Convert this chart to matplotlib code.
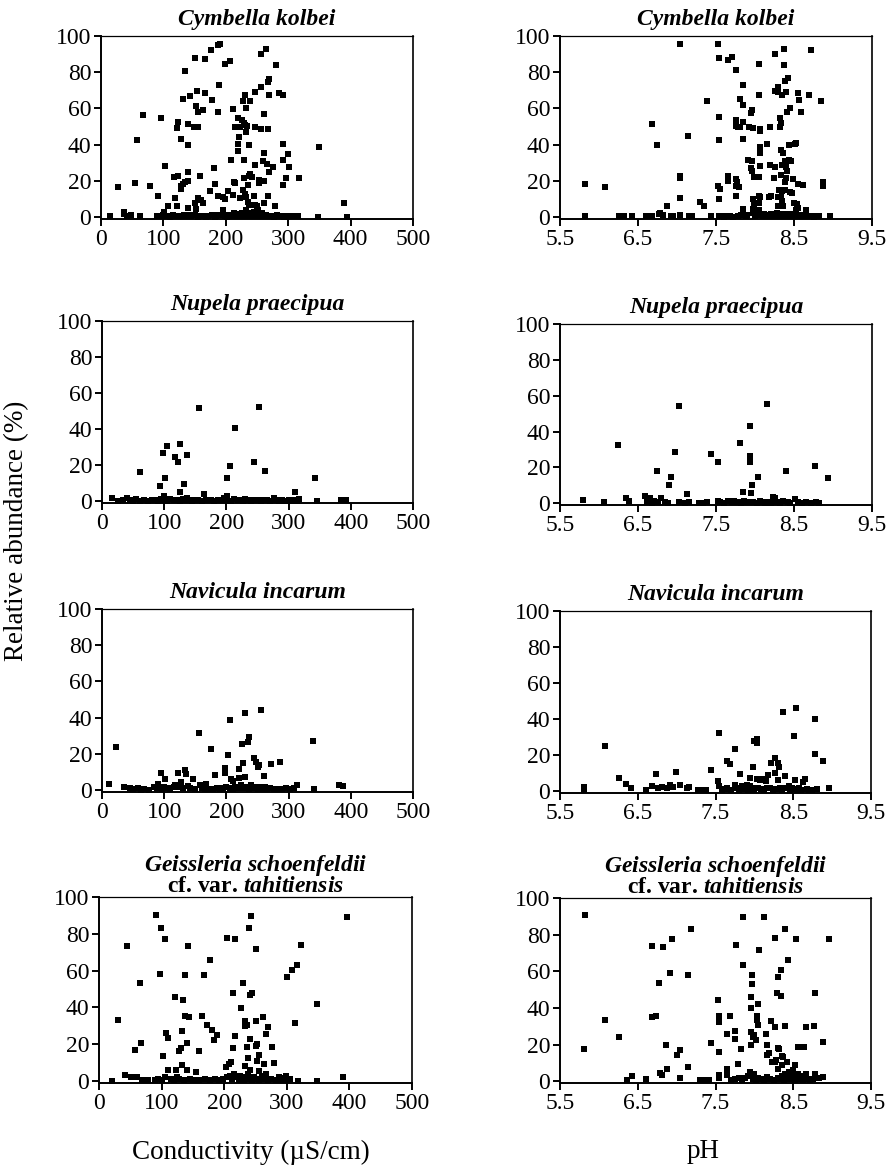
import matplotlib
matplotlib.use('Agg')
import matplotlib.pyplot as plt

plt.rcParams['font.family'] = ['Liberation Serif', 'DejaVu Serif']
plt.rcParams['mathtext.fontset'] = 'custom'
plt.rcParams['mathtext.it'] = 'Liberation Serif:italic:bold'
plt.rcParams['mathtext.rm'] = 'Liberation Serif:bold'

## species titles (one per row)
titles = ['Cymbella kolbei', 'Nupela praecipua', 'Navicula incarum',
          '$\\mathit{Geissleria\\ schoenfeldii}$\ncf. var. $\\mathit{tahitiensis}$']

cond_ticks = [0, 100, 200, 300, 400, 500]
ph_ticks   = [5.5, 6.5, 7.5, 8.5, 9.5]
y_ticks    = [0, 20, 40, 60, 80, 100]

## (conductivity uS/cm, relative abundance %)
cymbella_cond = [
    (27,16.6),(54,18.6),(78,17.2),(58,42.4),(68,56.5),(96,55),(103,28.5),(92,11.5),(107,6.4),(118,10.8),
    (121,6.4),(117,22.3),(124,22.7),(128,17),(131,18.3),(129,15.5),(135,19.6),(140,20),(140,25.2),(128,43.1),
    (140,39.9),(122,49.4),(123,52.6),(140,51.6),(149,49.7),(155,49.7),(131,65.3),(143,66.7),(154,69.5),(167,68.6),
    (152,61.4),(156,58.3),(163,58.9),(135,80.8),(151,88),(166,87.4),(176,92.1),(188,95),(191,95.4),(199,84.5),
    (207,86.3),(189,73),(178,64.5),(188,58),(158,22.7),(181,27),(182,18.1),(175,14.3),(188,11.9),(196,11.3),
    (198,10),(204,14.3),(212,12.2),(213,19.6),(215,18.6),(209,31.6),(219,36.7),(219,40.6),(221,44.4),(214,49.7),
    (222,49.9),(226,53.6),(229,52.1),(220,54.8),(230,50.8),(233,47),(234,50.3),(211,59.8),(232,60.1),(228,64.2),
    (238,64),(231,67.3),(246,68.9),(256,71.8),(261,56.9),(237,39.7),(246,49.9),(256,48.8),(268,48.8),(269,67.3),
    (268,74.6),(270,76.4),(256,90.3),(265,92.7),(281,84.1),(286,68.6),(292,67.3),(229,31.3),(246,28.9),(237,22.9),
    (242,22.3),(239,23.8),(229,21.4),(236,17.9),(253,20.8),(257,19.7),(262,19.7),(254,19),(259,30.9),(261,35.5),
    (266,29.3),(270,25),(276,27.6),(268,11.9),(261,7.7),(279,6.4),(291,40.6),(291,31.8),(300,34.9),(301,27.6),
    (296,21.8),(291,17.6),(317,21.9),(350,38.8),(389,7.7),(227,14.8),(230,12.6),(232,11),(245,11.9),(222,10.8),
    (235,8.2),(237,6.8),(247,6.9),(250,6),(251,3.7),(245,3.1),(232,3.7),(242,2.2),(156,10.4),(161,9.7),
    (163,8),(150,7.7),(153,4.4),(140,4.9),(195,3.7),(213,2.4),(101,2.7),(37,2.7),
    (15,0.5),(37,1.5),(42,0.5),(48,1),(62,0.5),(90,0.8),(96,0.5),(100,1.2),(105,0.5),(115,1),
    (120,0.5),(124,0.8),(128,0.5),(133,1),(138,0.5),(145,0.5),(150,1),(158,0.5),(165,0.8),(172,0.5),
    (178,1),(185,0.5),(192,1),(198,0.5),(204,1.2),(208,0.5),(212,1),(216,0.5),(220,1.5),(224,0.5),
    (227,1),(230,0.5),(233,1.5),(236,0.5),(239,1),(242,0.5),(244,1.2),(247,0.5),(250,1),(253,0.5),
    (256,1.2),(260,0.5),(264,1),(268,0.5),(274,0.5),(282,1),(290,0.5),(296,0.8),(300,0.5),(305,0.8),
    (310,0.5),(315,0.5),(348,0.3),(395,0.3),(110,0.3),(142,1),(155,0.3),(168,0.3),(182,0.3),(188,1),
    (202,0.3),(226,2.5),(238,2.5),(248,1.8),(258,2.2),(278,0.3),(286,0.5),(293,0.3)]

cymbella_ph = [
    (5.82,18.5),(6.08,16.7),(5.82,0.4),(6.25,0.4),(6.32,0.5),(6.42,0.9),(6.60,0.4),(6.68,0.4),(6.68,51.6),(6.74,40),
    (6.77,1.7),(6.78,2.2),(6.82,1.3),(6.87,6.4),(6.92,0.9),(6.95,0.9),(7.04,95.4),(7.04,22.6),(7.04,21.7),(7.04,10.5),
    (7.04,1.3),(7.14,44.6),(7.15,0.4),(7.19,0.4),(7.30,8.3),(7.34,6.4),(7.39,63.9),(7.44,0.4),(7.53,95.8),(7.54,87.7),
    (7.54,55.4),(7.54,42.6),(7.53,17.4),(7.55,15.6),(7.54,10.1),(7.54,0.5),(7.65,86.8),(7.65,22.9),(7.65,20.2),(7.65,0.4),
    (7.71,88.3),(7.75,81.1),(7.75,53.6),(7.75,50.5),(7.78,49.5),(7.81,49.5),(7.75,21.1),(7.75,17.4),(7.75,11.6),(7.80,16.9),
    (7.77,19.4),(7.81,65.5),(7.85,73),(7.84,52.7),(7.84,43.1),(7.85,61.7),(7.85,4.6),(7.91,31.7),(7.95,57.6),(7.96,59.3),
    (7.92,49.7),(7.97,49),(7.95,27.2),(7.96,25.7),(7.96,31.2),(7.97,10.1),(7.99,22),(7.99,7.3),(7.98,4.6),(7.97,2.2),
    (8.05,67.5),(8.05,84.8),(8.06,47.3),(8.06,48.4),(8.06,38.5),(8.06,35.2),(8.06,28),(8.05,22.4),(8.05,11.9),(8.06,11),
    (8.05,7.7),(8.05,3.7),(8.08,1.8),(8.15,40.4),(8.19,49.5),(8.19,28.8),(8.18,11.2),(8.20,11.9),(8.24,21.7),(8.26,27.5),
    (8.26,90.3),(8.37,92.7),(8.37,84),(8.30,72.1),(8.26,69.7),(8.30,69),(8.34,67.5),(8.40,69),(8.38,74.9),(8.42,76.7),
    (8.32,54.7),(8.33,51.9),(8.32,49.9),(8.41,58.3),(8.45,60),(8.51,40.4),(8.44,39.8),(8.33,37),(8.36,35.6),(8.39,31.2),
    (8.44,31.7),(8.46,30.8),(8.35,28.8),(8.40,27.5),(8.41,25.7),(8.33,23.5),(8.40,21.5),(8.38,19.3),(8.49,21.1),(8.31,15),
    (8.34,14.3),(8.38,15),(8.45,14.1),(8.47,13.4),(8.33,11.4),(8.29,11),(8.35,8.8),(8.36,6.4),(8.29,6.1),(8.50,7.9),
    (8.54,7.3),(8.55,5),(8.52,3.7),(8.55,18.3),(8.62,18),(8.51,1.3),(8.55,68.8),(8.57,64.6),(8.59,58.3),(8.53,40.9),
    (8.69,67.3),(8.72,92.3),(8.84,64.2),(8.87,19.3),(8.87,17.4),(8.65,3.7),(8.66,0.9),(8.77,0.9),(8.96,0.4),
    (7.55,0.5),(7.60,0.3),(7.62,0.8),(7.68,0.5),(7.72,0.3),(7.78,0.8),(7.82,1),(7.88,0.5),(7.90,1.2),(8.00,0.5),
    (8.02,1),(8.10,0.5),(8.12,1.5),(8.15,0.5),(8.18,1),(8.20,2),(8.22,0.5),(8.25,1),(8.28,2.5),(8.30,0.5),
    (8.32,1.5),(8.35,0.5),(8.38,2),(8.40,1),(8.42,0.5),(8.45,1.5),(8.48,0.5),(8.52,0.5),(8.58,0.5),(8.60,1),
    (8.70,0.5),(8.75,0.3),(8.82,0.5)]

nupela_cond = [
    (16,1.5),(40,1.5),(61,16.1),(87,0.9),(93,8.7),(98,26.5),(102,13.1),(99,2.8),(105,30.7),(118,24.8),
    (122,21.5),(125,31.9),(136,25.7),(126,5),(132,9.3),(137,1.5),(156,51.7),(164,3.9),(201,13),(205,19.3),
    (214,40.7),(201,2.8),(245,21.5),(252,52.4),(262,16.7),(276,2),(311,5.2),(317,1.3),(343,13),(346,0.3),
    (385,0.5),(392,0.5),
    (26,0),(33,0.8),(45,0.5),(50,0),(55,1),(61,0.3),(68,0.5),(74,0),(80,0.5),(90,0.3),
    (95,1),(100,0.5),(105,0.3),(110,1),(115,0.5),(120,0.8),(125,0.3),(130,1.2),(135,0.5),(140,0.5),
    (145,0.3),(150,0.8),(155,0.5),(160,0.3),(168,0.5),(175,0.8),(180,0.3),(186,0.5),(192,0.8),(196,1.5),
    (200,0.5),(208,0.3),(212,1.2),(218,0.5),(222,0.8),(226,0.3),(230,1),(235,0.5),(240,0.3),(245,0.8),
    (250,0.5),(255,0.3),(260,0.5),(265,0.8),(270,0.3),(280,0.5),(285,0.3),(290,0.5),(295,0.3),(300,0.5),
    (305,0.3),(310,0.8),(314,0.3)]

nupela_ph = [
    (5.79,1.8),(6.06,0.9),(6.24,32.7),(6.34,2.7),(6.39,1.5),(6.59,4.2),(6.66,3.1),(6.74,17.9),(6.79,2.7),(6.84,0.9),
    (6.90,10),(6.92,14.6),(6.98,28.3),(7.03,54.5),(7.03,0.9),(7.13,4.9),(7.43,27.4),(7.53,23),(7.52,1.3),(7.81,33.8),
    (7.84,6.4),(7.94,43),(7.94,26.5),(7.94,23.2),(7.95,5.9),(7.96,10.4),(8.04,14.4),(8.15,55.2),(8.23,3.7),(8.26,3.1),
    (8.40,18.1),(8.51,2.2),(8.77,20.7),(8.94,14.3),
    (6.62,0.5),(6.68,0.3),(6.71,1),(6.76,0.5),(6.88,0.3),(7.10,0.3),(7.15,0.5),(7.28,0.3),(7.33,0.3),(7.38,0.5),
    (7.55,0.5),(7.60,0.3),(7.65,1),(7.70,0.5),(7.73,1.5),(7.78,0.5),(7.82,0.3),(7.86,1),(7.90,0.5),(7.98,0.8),
    (8.02,0.3),(8.06,1),(8.10,0.5),(8.13,0.3),(8.18,0.8),(8.20,0.3),(8.28,0.5),(8.32,0.3),(8.36,1),(8.42,0.5),
    (8.45,0.3),(8.55,0.5),(8.60,0.3),(8.65,0.5),(8.72,0.3),(8.78,0.5),(8.82,0.3)]

navicula_cond = [
    (12,3.5),(23,23.8),(36,1.8),(83,1.8),(90,3.5),(95,9.6),(102,6.4),(122,9.3),(133,11.3),(135,8.7),
    (127,4.4),(147,6.2),(156,31.5),(157,3),(168,3.5),(176,22.5),(182,8.4),(197,9.5),(198,12.5),(202,19.6),
    (205,38.5),(208,6.4),(211,5.3),(220,6.7),(221,11.6),(225,25.6),(227,15.1),(230,42.7),(234,26.7),(237,29.5),
    (230,7.3),(244,17.5),(247,15.8),(250,12.7),(253,14),(255,44.4),(261,8),(272,14.5),(286,15.3),(313,3),
    (340,27.3),(341,0.4),(381,3),(388,2.5),
    (45,1),(50,0.5),(58,1),(62,0.3),(68,0.5),(75,0.3),(88,1),(97,0.5),(100,2),(106,1),
    (110,0.5),(115,1.5),(118,3),(125,2),(130,1),(138,2.5),(142,1),(150,0.5),(160,1),(165,0.5),
    (172,0.8),(178,0.5),(185,1),(190,0.5),(195,1),(200,2),(205,1),(210,0.5),(214,2),(218,1),
    (224,3),(228,1),(232,2),(236,0.5),(240,3),(243,1),(246,2),(250,0.5),(254,1.5),(258,0.5),
    (262,2),(266,0.5),(270,1),(276,0.5),(282,0.8),(290,0.5),(296,1),(302,0.5),(308,1)]

navicula_ph = [
    (5.81,2.4),(5.81,0.9),(6.08,25),(6.26,7.3),(6.35,4),(6.41,1.8),(6.60,0.9),(6.68,3.1),(6.74,9.7),(6.76,1.8),
    (6.81,2.4),(6.87,1.8),(6.91,3.7),(6.95,2.4),(6.99,10.4),(7.04,3.7),(7.13,1.8),(7.16,2.4),(7.27,0.9),(7.34,0.9),
    (7.38,0.9),(7.44,11.9),(7.54,32.5),(7.53,5.5),(7.55,2.7),(7.65,1.8),(7.65,16.5),(7.69,15.2),(7.75,23.2),(7.75,3.7),
    (7.82,9.7),(7.84,3.1),(7.88,2.7),(7.90,3.7),(7.94,2.7),(7.95,7.3),(7.98,13.7),(8.00,28),(8.04,27),(8.03,28.7),
    (8.03,6.8),(8.07,6),(8.11,6.8),(8.15,5.5),(8.18,9.1),(8.22,15.5),(8.27,18.3),(8.30,15.9),(8.32,13.3),(8.26,10),
    (8.31,6.4),(8.37,44),(8.39,8.2),(8.51,30.5),(8.54,46),(8.52,6.4),(8.62,4.9),(8.65,6.8),(8.78,39.9),(8.78,20.7),
    (8.88,16.8),(8.81,1.2),(8.96,1.5),
    (7.58,0.5),(7.62,1),(7.70,0.5),(7.78,1.5),(7.80,0.5),(7.86,1),(7.92,0.5),(7.97,1.5),(8.00,0.5),(8.05,2),
    (8.08,1),(8.12,0.5),(8.16,1.5),(8.20,2),(8.24,0.5),(8.28,1),(8.33,2),(8.36,0.5),(8.40,1.5),(8.44,3),
    (8.46,0.5),(8.48,2),(8.50,1),(8.55,0.5),(8.58,1.5),(8.60,0.5),(8.68,1),(8.70,0.5),(8.74,0.5)]

geissleria_cond = [
    (91,90.2),(99,83.4),(106,77.3),(45,73.2),(142,73.5),(243,89.9),(239,83.4),(205,77.6),(218,77.3),(251,71.5),
    (396,89.3),(322,74),(177,66),(316,63.1),(309,60.2),(301,56.3),(98,58.4),(137,57.7),(168,57.4),(65,53.4),
    (230,53.4),(214,48),(241,46.7),(245,47.8),(122,45.8),(134,44.2),(227,39.6),(348,41.9),(30,33.1),(137,35.4),
    (143,34.9),(164,35.4),(313,31.6),(233,32.7),(236,30.5),(233,29.8),(250,32.7),(262,35),(270,29.5),(173,30.6),
    (181,27.9),(189,25.2),(184,22.6),(107,25.9),(110,23.4),(133,27.3),(67,20.5),(140,20.5),(57,16.9),(127,16.5),
    (160,16.5),(218,24.3),(242,22.9),(250,19),(253,20),(267,25.6),(276,18.3),(214,17.8),(236,18.3),(41,3.6),
    (51,2.5),(61,2.5),(20,0),(68,0.5),(79,0.5),(90,0.8),(102,13.5),(110,6.1),(106,2.5),(131,17.9),
    (132,9),(123,6.1),(140,6.3),(155,4.9),(203,7.9),(207,9.4),(211,10.2),(238,12.6),(234,8),(241,6),
    (252,10.8),(256,14.4),(256,5.7),(264,9.4),(280,9.7),(389,2.5),
    (95,1),(100,0.5),(115,1),(120,0.5),(125,2),(128,1),(135,0.5),(145,1),(150,0.5),(160,0.5),
    (170,1),(178,0.5),(185,1),(192,0.5),(198,1),(205,2),(210,3),(213,1),(216,4),(220,2),
    (223,0.5),(226,3),(229,1),(232,0.5),(235,2),(238,4),(241,1),(245,0.5),(248,2),(252,1),
    (256,0.5),(260,3),(263,1),(266,4),(270,0.5),(275,1),(282,0.5),(288,2),(292,0.5),(295,1.5),
    (298,3),(301,0.5),(305,1),(318,0.3),(348,0.3)]

geissleria_ph = [
    (5.82,90.7),(5.81,17.4),(6.08,33.4),(6.26,24),(6.68,73.9),(6.82,73.5),(6.94,77.4),(7.18,83.3),(6.77,53.7),(6.92,58.8),
    (7.14,57.7),(6.68,34.8),(6.74,35.7),(6.86,19.6),(7.00,14.2),(7.04,17),(7.53,44.4),(7.55,35.7),(7.55,32.1),(7.69,35.7),
    (7.44,20.6),(7.55,16),(7.65,25.9),(7.75,27.3),(7.75,23.1),(7.83,17.8),(7.86,89.6),(8.12,89.6),(7.76,74.6),(7.86,63.2),
    (8.06,71.7),(7.97,57.8),(7.97,53.3),(7.96,45.8),(7.96,39.9),(8.05,42),(8.03,35.5),(8.04,33.5),(8.05,30.5),(7.96,27),
    (7.98,24),(8.02,22.5),(7.99,25),(7.96,19.7),(8.15,25.5),(8.22,33),(8.26,29.5),(8.16,20),(8.27,78),(8.39,83.3),
    (8.53,77.4),(8.96,77.4),(8.43,66.3),(8.34,60.5),(8.31,56.6),(8.29,48.3),(8.34,46.7),(8.39,30.3),(8.32,17.8),(8.37,13.3),
    (8.28,11.5),(8.56,18.6),(8.64,18.4),(8.67,29.4),(8.77,30.3),(8.78,48.3),(8.88,21.2),(8.16,14.5),(6.36,0.9),(6.42,3),
    (6.61,1.2),(6.78,4.3),(6.81,3.4),(6.87,6.6),(7.04,1.5),(7.14,7.5),(7.30,0.9),(7.35,0.9),(7.41,0.9),(7.54,1.9),
    (7.54,3.6),(7.65,6.6),(7.65,3.6),(7.79,9.3),(8.16,2.2),(8.19,15.3),(8.23,10.6),(8.26,10.6),(8.31,18.3),(8.31,6.5),
    (8.35,13.8),(8.36,8.8),(8.42,10.6),(8.52,8.8),(8.57,18.9),(8.64,18.6),(8.67,4),(8.70,1),(8.78,4),(8.83,1.8),
    (8.88,2.2),
    (7.70,0.5),(7.75,1),(7.80,1.5),(7.84,0.5),(7.88,2),(7.92,3),(7.95,5),(7.98,1),(8.00,4),(8.02,0.5),
    (8.05,2),(8.08,1),(8.12,0.5),(8.20,1),(8.25,0.5),(8.30,2),(8.33,1),(8.36,3),(8.38,0.5),(8.40,4),
    (8.42,2),(8.44,5),(8.46,1),(8.48,3),(8.50,6),(8.52,0.5),(8.54,2),(8.56,4),(8.58,1),(8.60,3),
    (8.62,0.5),(8.72,0.5),(8.75,1)]

rows = [(cymbella_cond, cymbella_ph), (nupela_cond, nupela_ph),
        (navicula_cond, navicula_ph), (geissleria_cond, geissleria_ph)]

## axes boxes in pixels: (left, top, right, bottom)
W, H = 891, 1169
left_boxes  = [(101, 36, 413, 219), (102, 321, 413, 503), (102, 609, 413, 792), (99, 897, 412, 1083)]
right_boxes = [(560, 36, 872, 219), (560, 324, 872, 505), (560, 611, 871, 793), (560, 898, 871, 1083)]

def px_axes(fig, box):
    l, t, r, b = box
    return fig.add_axes([l/W, 1 - b/H, (r-l)/W, (b-t)/H])

def style(ax, xlim, xticks, xfmt):
    ax.set_xlim(*xlim)
    ax.set_ylim(-1, 100)
    ax.set_xticks(xticks)
    ax.set_xticklabels([xfmt % v for v in xticks])
    ax.set_yticks(y_ticks)
    ax.tick_params(direction='out', length=5, width=1.4, labelsize=17, pad=2, colors='black')
    for s in ax.spines.values():
        s.set_linewidth(1.4)
    ax.spines['top'].set_linewidth(0.9)
    ax.spines['right'].set_linewidth(1.2)

fig = plt.figure(figsize=(W/100, H/100), dpi=100)

for i, (cond, ph) in enumerate(rows):
    for box, data, xlim, xticks, xfmt in [
            (left_boxes[i], cond, (0, 500), cond_ticks, '%d'),
            (right_boxes[i], ph, (5.5, 9.5), ph_ticks, '%.1f')]:
        ax = px_axes(fig, box)
        xs, ys = zip(*data)
        ax.scatter(xs, ys, marker='s', s=13, c='black', linewidths=0, clip_on=False, zorder=3)
        style(ax, xlim, xticks, xfmt)
        if i == 3:
            ax.set_title(titles[i], fontsize=17, fontweight='bold', pad=3, linespacing=0.85)
        else:
            ax.set_title(titles[i], fontsize=17, fontweight='bold', fontstyle='italic', pad=8)

fig.text(17/W, 1 - 531/H, 'Relative abundance (%)', rotation=90, ha='center', va='center', fontsize=19.5)
fig.text(251/W, 1 - 1152/H, 'Conductivity (\u00b5S/cm)', ha='center', va='center', fontsize=19.5)
fig.text(703/W, 1 - 1152/H, 'pH', ha='center', va='center', fontsize=19.5)

fig.savefig('out.png', dpi=100)
